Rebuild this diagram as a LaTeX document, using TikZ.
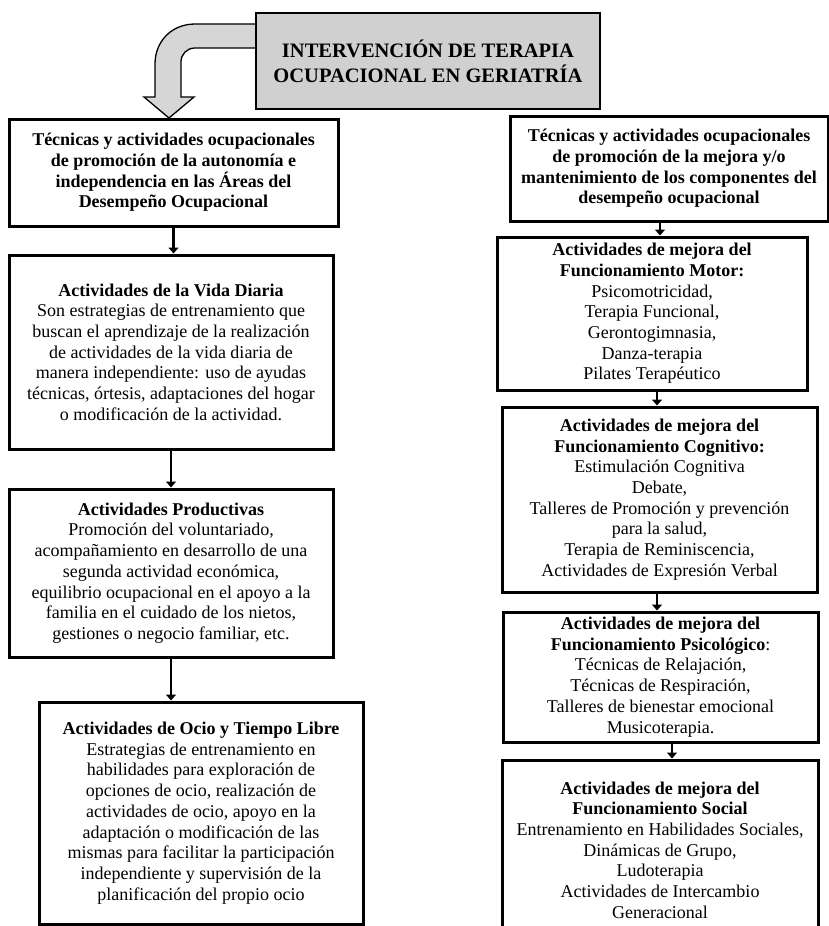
\documentclass[tikz,border=0pt]{standalone}
\usepackage{fontspec}
\setmainfont{Liberation Serif}
\usetikzlibrary{arrows.meta}
\definecolor{titlegray}{RGB}{208,208,208}
\definecolor{arrowgray}{RGB}{214,214,214}
\newcommand{\hd}[1]{\textbf{#1}}
\begin{document}
\begin{tikzpicture}[x=1pt,y=-1pt,
  box/.style={draw,line width=3pt,align=center,inner sep=2pt,
    font=\fontsize{18}{20.7}\selectfont},
  link/.style={line width=2.6pt,-{Triangle[width=10pt,length=6pt]}}]
\useasboundingbox (0,0) rectangle (829,926);
\draw[fill=arrowgray,line width=1.3pt] (262,24) -- (195,24) .. controls (172,24) and (155,41) .. (155,64)
  -- (155,97) -- (144,97) -- (169,118) -- (194,97) -- (181,97) -- (181,62)
  .. controls (181,54) and (187,48) .. (195,48) -- (262,48);
\node[draw,line width=1.5pt,fill=titlegray,minimum width=344,minimum height=96,align=center,
  font=\bfseries\fontsize{20.5}{25}\selectfont] (title) at (428,61)
  {INTERVENCIÓN DE TERAPIA\\OCUPACIONAL EN GERIATRÍA};
\node[box,minimum width=329,minimum height=107] (areas) at (173.5,172.5)
  {\hd{Técnicas y actividades ocupacionales}\\ \hd{de promoción de la autonomía e}\\
   \hd{independencia en las Áreas del}\\ \hd{Desempeño Ocupacional}};
\node[box,minimum width=324,minimum height=194] (avd) at (171,352)
  {\hd{Actividades de la Vida Diaria}\\ Son estrategias de entrenamiento que\\
   buscan el aprendizaje de la realización\\ de actividades de la vida diaria de\\
   manera independiente: uso de ayudas\\ técnicas, órtesis, adaptaciones del hogar\\
   o modificación de la actividad.};
\node[box,minimum width=324,minimum height=168] (prod) at (171,573)
  {\hd{Actividades Productivas}\\ Promoción del voluntariado,\\
   acompañamiento en desarrollo de una\\ segunda actividad económica,\\
   equilibrio ocupacional en el apoyo a la\\ familia en el cuidado de los nietos,\\
   gestiones o negocio familiar, etc.};
\node[box,minimum width=324,minimum height=222] (ocio) at (201,813)
  {\hd{Actividades de Ocio y Tiempo Libre}\\ Estrategias de entrenamiento en\\
   habilidades para exploración de\\ opciones de ocio, realización de\\
   actividades de ocio, apoyo en la\\ adaptación o modificación de las\\
   mismas para facilitar la participación\\ independiente y supervisión de la\\
   planificación del propio ocio};
\node[box,minimum width=318,minimum height=105] (comp) at (669,168.5)
  {\hd{Técnicas y actividades ocupacionales}\\ \hd{de promoción de la mejora y/o}\\
   \hd{mantenimiento de los componentes del}\\ \hd{desempeño ocupacional}};
\node[box,minimum width=310,minimum height=153] (motor) at (652,313.5)
  {\hd{Actividades de mejora del}\\ \hd{Funcionamiento Motor:}\\
   Psicomotricidad,\\ Terapia Funcional,\\
   Gerontogimnasia,\\ Danza-terapia\\ Pilates Terapéutico};
\node[box,minimum width=315,minimum height=185] (cogn) at (659.5,499.5)
  {\hd{Actividades de mejora del}\\ \hd{Funcionamiento Cognitivo:}\\
   Estimulación Cognitiva\\ Debate,\\ Talleres de Promoción y prevención\\
   para la salud,\\ Terapia de Reminiscencia,\\ Actividades de Expresión Verbal};
\node[box,minimum width=315,minimum height=130] (psic) at (660.5,677)
  {\hd{Actividades de mejora del}\\ \hd{Funcionamiento Psicológico}:\\
   Técnicas de Relajación,\\ Técnicas de Respiración,\\
   Talleres de bienestar emocional\\ Musicoterapia.};
\node[box,minimum width=316,minimum height=180] (social) at (660,850)
  {\hd{Actividades de mejora del}\\ \hd{Funcionamiento Social}\\
   Entrenamiento en Habilidades Sociales,\\ Dinámicas de Grupo,\\ Ludoterapia\\
   Actividades de Intercambio\\ Generacional};
\draw[link] (areas.south) -- (areas.south |- avd.north);
\draw[link] (avd.south) -- (prod.north);
\draw[link] (prod.south) -- (prod.south |- ocio.north);
\draw[link] ([xshift=-9]comp.south) -- ([xshift=-9]comp.south |- motor.north);
\draw[link] ([xshift=5]motor.south) -- ([xshift=5]motor.south |- cogn.north);
\draw[link] ([xshift=-2.5]cogn.south) -- ([xshift=-2.5]cogn.south |- psic.north);
\draw[link] ([xshift=11.5]psic.south) -- ([xshift=11.5]psic.south |- social.north);
\end{tikzpicture}
\end{document}
